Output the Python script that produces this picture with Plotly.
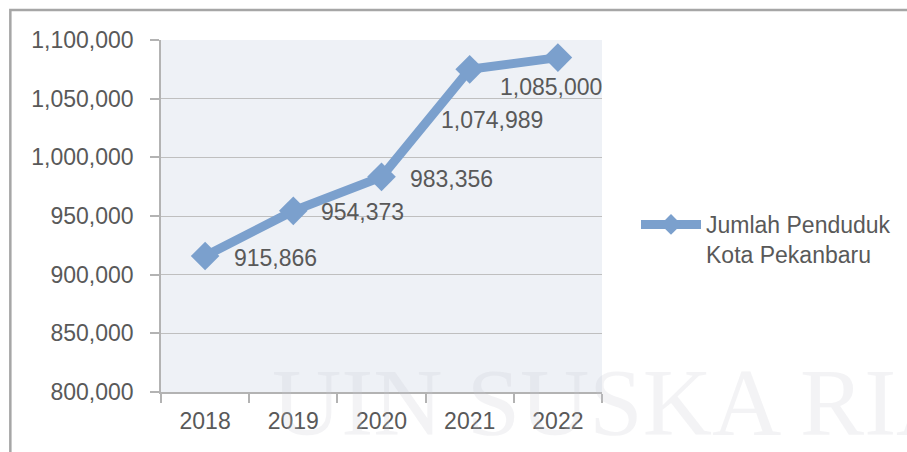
import plotly.graph_objects as go

years = ["2018", "2019", "2020", "2021", "2022"]
population = [915866, 954373, 983356, 1074989, 1085000]
value_labels = ["915,866", "954,373", "983,356", "1,074,989", "1,085,000"]
series_name = "Jumlah Penduduk<br>Kota Pekanbaru"
y_ticks = [800000, 850000, 900000, 950000, 1000000, 1050000, 1100000]
y_tick_text = ["800,000", "850,000", "900,000", "950,000", "1,000,000", "1,050,000", "1,100,000"]

label_shift_x = [27, 26, 26, -31, -60]
label_shift_y = [-2, -1, -2, -51, -29]

FONT = "Liberation Sans"
TXT = "#595959"
LINE = "#7ba0cd"

fig = go.Figure()
fig.add_trace(go.Scatter(
    x=years, y=population, name=series_name,
    mode="lines+markers",
    line=dict(color=LINE, width=9),
    marker=dict(symbol="diamond", size=22, color=LINE),
))

annotations = []
for i, (v, t, sx, sy) in enumerate(zip(population, value_labels, label_shift_x, label_shift_y)):
    annotations.append(dict(x=i, y=v, xref="x", yref="y", text=t, showarrow=False,
                            xanchor="left", yanchor="middle", xshift=sx, yshift=sy,
                            font=dict(family=FONT, size=23, color=TXT)))
# faint watermark text
annotations.append(dict(x=(270 - 161) / 442, y=(392 - 402) / 352, xref="paper", yref="paper",
                        text="UIN SUSKA RIAU", showarrow=False, xanchor="left", yanchor="middle",
                        font=dict(family="Liberation Serif", size=96, color="rgba(200,200,210,0.22)")))

fig.update_layout(
    width=907, height=452,
    margin=dict(l=161, r=304, t=40, b=60),
    paper_bgcolor="white",
    plot_bgcolor="#eef1f6",
    font=dict(family=FONT, size=23, color=TXT),
    showlegend=True,
    legend=dict(x=(636 - 161) / 442, y=(392 - 203) / 352, xanchor="left", yanchor="top",
                bgcolor="rgba(0,0,0,0)", font=dict(family=FONT, size=23, color=TXT),
                itemwidth=60, tracegroupgap=0, valign="top"),
    annotations=annotations,
    shapes=[dict(type="rect", xref="paper", yref="paper",
                 x0=(10 - 161) / 442, x1=2, y0=-1, y1=(392 - 10) / 352,
                 line=dict(color="#a6a6a6", width=2.5), layer="below")],
)
fig.update_xaxes(
    type="category", range=[-0.5, 4.5],
    showline=True, linecolor="#b3b3b3", linewidth=1.5,
    ticks="outside", ticklen=9, tickcolor="#b3b3b3", tickwidth=1.5,
    tickson="boundaries", showgrid=False,
    tickfont=dict(family=FONT, size=23, color=TXT),
    ticklabelstandoff=8,
)
fig.update_yaxes(
    range=[800000, 1100000], tickvals=y_ticks, ticktext=y_tick_text,
    showline=True, linecolor="#b3b3b3", linewidth=1.5,
    ticks="outside", ticklen=9, tickcolor="#b3b3b3", tickwidth=1.5,
    showgrid=True, gridcolor="#bfbfbf", gridwidth=1.2,
    zeroline=False,
    tickfont=dict(family=FONT, size=23, color=TXT),
    ticklabelstandoff=12,
)

fig.write_html("out.html")
